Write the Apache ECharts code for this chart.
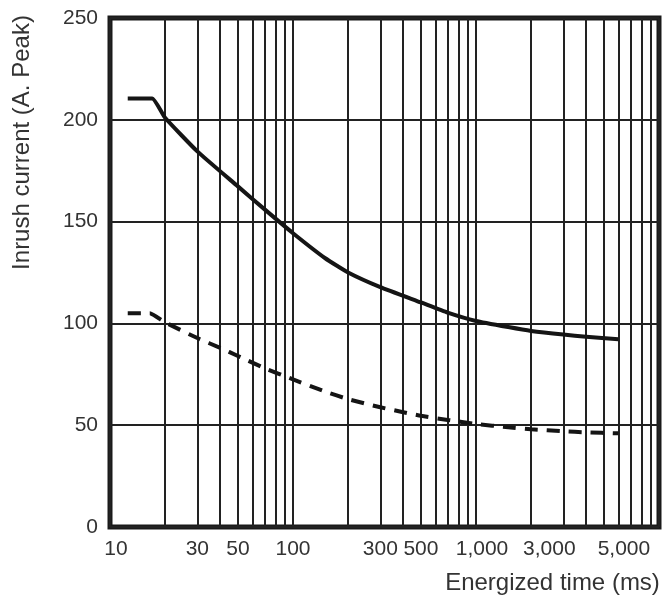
<!DOCTYPE html>
<html>
<head>
<meta charset="utf-8">
<script src="https://cdn.jsdelivr.net/npm/echarts@6/dist/echarts.min.js"></script>
<style>
  html, body { margin: 0; padding: 0; background: #fff; }
  #main { width: 668px; height: 604px; }
</style>
</head>
<body>
<div id="main"></div>
<script>
// energized time (ms), log axis
let solidTime = [12.5, 17, 20, 30, 50, 70, 100, 150, 200, 300, 500, 700, 1000, 1500, 2000, 3000, 4000, 6000];
let solidAmp  = [210.5, 210.5, 201, 184.5, 167.3, 156, 144.3, 132, 125, 117.8, 110.3, 105.3, 101.2, 98.2, 96.3, 94.5, 93.5, 92.2];

let dashTime = [12.5, 16.5, 20, 30, 40, 50, 70, 100, 150, 200, 300, 400, 500, 700, 1000, 1500, 2000, 3000, 4000, 6000];
let dashAmp  = [105, 105, 100.5, 92.8, 88, 84, 78, 72.5, 66.5, 62.8, 58.8, 56.4, 54.6, 52.6, 50.6, 49, 48, 47, 46.5, 46];

// grid lines and labels of the time axis
let gridTimes = [];
[10, 100, 1000].forEach(d => {
    for (let k = 1; k < 10; k++) gridTimes.push(d * k);
});
gridTimes.push(10000);
let labelTimes = [10, 30, 50, 100, 300, 500, 1000, 3000, 5000];

function pairs(xs, ys) {
    return xs.map((x, i) => [x, ys[i]]);
}

// 1000 -> 1,000, some labels nudged the way the printed chart has them
function timeLabel(v) {
    let n = Math.round(v);
    let s = n >= 1000 ? n.toString().replace(/\B(?=(\d{3})+(?!\d))/g, ',') : String(n);
    if (n === 10 || n === 1000) return '{r6|' + s + '}';
    if (n === 3000) return '{l14|' + s + '}';
    if (n === 5000) return '{r20|' + s + '}';
    return s;
}

let myChart = echarts.init(document.getElementById('main'));

let lineDark = '#151515';
let textColor = '#333';
let labelFont = { fontSize: 21, color: textColor, fontFamily: 'Liberation Sans' };

myChart.setOption({
    backgroundColor: '#fff',
    animation: false,
    textStyle: { fontFamily: 'Liberation Sans' },
    grid: {
        left: 110, right: 9, top: 18, bottom: 77,
        show: true,
        borderColor: '#1a1a1a',
        borderWidth: 5
    },
    xAxis: {
        type: 'log',
        logBase: 10,
        min: 10,
        max: 10000,
        name: 'Energized time (ms)',
        nameLocation: 'middle',
        nameGap: 44,
        nameTextStyle: { fontSize: 24, color: textColor, padding: [0, 0, 0, 336] },
        axisLine: { show: false },
        axisTick: { show: false, customValues: gridTimes },
        axisLabel: {
            customValues: labelTimes,
            fontSize: 21,
            color: textColor,
            margin: 12,
            hideOverlap: false,
            formatter: timeLabel,
            rich: {
                r6: Object.assign({ padding: [0, 0, 0, 12] }, labelFont),
                l14: Object.assign({ padding: [0, 28, 0, 0] }, labelFont),
                r20: Object.assign({ padding: [0, 0, 0, 40] }, labelFont)
            }
        },
        splitLine: { show: true, lineStyle: { color: '#222', width: 2 } }
    },
    yAxis: {
        type: 'value',
        min: 0,
        max: 250,
        interval: 50,
        name: 'Inrush current (A. Peak)',
        nameLocation: 'middle',
        nameGap: 76,
        nameTextStyle: { fontSize: 24, color: textColor, padding: [0, 0, 0, 260] },
        axisLine: { show: false },
        axisTick: { show: false },
        axisLabel: { fontSize: 21, color: textColor, margin: 12 },
        splitLine: { show: true, lineStyle: { color: '#222', width: 2 } }
    },
    series: [
        {
            name: 'solid',
            type: 'line',
            data: pairs(solidTime, solidAmp),
            showSymbol: false,
            smooth: 0.15,
            lineStyle: { color: lineDark, width: 4, cap: 'butt', join: 'round' }
        },
        {
            name: 'dashed',
            type: 'line',
            data: pairs(dashTime, dashAmp),
            showSymbol: false,
            smooth: 0.15,
            lineStyle: { color: lineDark, width: 4, type: [13, 9], cap: 'butt' }
        }
    ]
});
</script>
</body>
</html>
